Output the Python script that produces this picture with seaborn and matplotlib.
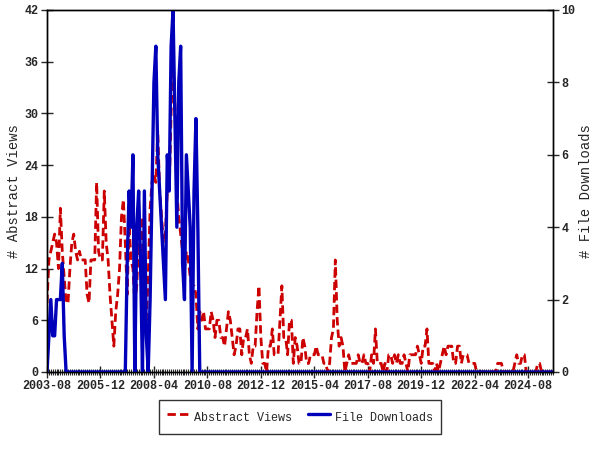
import pandas as pd
import matplotlib
matplotlib.use('Agg')
from matplotlib import pyplot as plt
import seaborn as sns

# monthly values, 2003-08 .. 2025-09
views = [
    8, 13, 14, 15, 16, 15, 12, 19, 14, 11, 8, 8,
    12, 15, 16, 14, 13, 14, 13, 13, 13, 9, 8, 13,
    13, 13, 22, 14, 13, 13, 21, 15, 13, 9, 6, 3,
    7, 9, 12, 18, 20, 15, 9, 17, 13, 12, 8, 10,
    15, 13, 18, 9, 6, 11, 19, 22, 23, 22, 28, 21,
    18, 15, 16, 21, 21, 30, 37, 31, 21, 18, 16, 14,
    12, 14, 13, 11, 10, 10, 9, 5, 7, 6, 7, 5,
    5, 5, 7, 6, 4, 6, 6, 4, 4, 3, 5, 7,
    6, 4, 2, 3, 5, 5, 2, 4, 4, 5, 2, 1,
    3, 3, 7, 10, 4, 1, 1, 0, 3, 3, 5, 2,
    2, 2, 6, 10, 4, 4, 2, 6, 6, 1, 4, 3,
    1, 1, 4, 3, 1, 1, 2, 2, 2, 3, 2, 2,
    2, 1, 1, 0, 1, 4, 5, 13, 6, 3, 4, 3,
    0, 1, 2, 1, 1, 1, 1, 2, 1, 1, 2, 1,
    1, 0, 2, 1, 5, 1, 1, 1, 0, 1, 0, 2,
    2, 1, 2, 1, 2, 1, 1, 2, 1, 0, 2, 2,
    2, 2, 3, 2, 1, 3, 3, 5, 1, 1, 1, 0,
    1, 0, 1, 2, 3, 2, 3, 3, 3, 1, 1, 3,
    3, 1, 2, 2, 2, 1, 1, 1, 1, 0, 0, 0,
    0, 0, 0, 0, 0, 0, 0, 0, 1, 1, 1, 0,
    0, 0, 0, 0, 0, 1, 2, 1, 1, 2, 2, 0,
    0, 0, 0, 0, 0, 1, 1, 0, 0, 0, 0, 0,
    0, 0,
]

downloads = [
    0, 1, 2, 1, 1, 2, 2, 2, 3, 1, 0, 0,
    0, 0, 0, 0, 0, 0, 0, 0, 0, 0, 0, 0,
    0, 0, 0, 0, 0, 0, 0, 0, 0, 0, 0, 0,
    0, 0, 0, 0, 0, 0, 3, 5, 4, 6, 0, 4,
    5, 3, 0, 5, 1, 0, 2, 5, 8, 9, 6, 5,
    4, 3, 2, 6, 5, 9, 10, 7, 4, 8, 9, 3,
    2, 6, 5, 4, 0, 5, 7, 4, 0, 0, 0, 0,
    0, 0, 0, 0, 0, 0, 0, 0, 0, 0, 0, 0,
    0, 0, 0, 0, 0, 0, 0, 0, 0, 0, 0, 0,
    0, 0, 0, 0, 0, 0, 0, 0, 0, 0, 0, 0,
    0, 0, 0, 0, 0, 0, 0, 0, 0, 0, 0, 0,
    0, 0, 0, 0, 0, 0, 0, 0, 0, 0, 0, 0,
    0, 0, 0, 0, 0, 0, 0, 0, 0, 0, 0, 0,
    0, 0, 0, 0, 0, 0, 0, 0, 0, 0, 0, 0,
    0, 0, 0, 0, 0, 0, 0, 0, 0, 0, 0, 0,
    0, 0, 0, 0, 0, 0, 0, 0, 0, 0, 0, 0,
    0, 0, 0, 0, 0, 0, 0, 0, 0, 0, 0, 0,
    0, 0, 0, 0, 0, 0, 0, 0, 0, 0, 0, 0,
    0, 0, 0, 0, 0, 0, 0, 0, 0, 0, 0, 0,
    0, 0, 0, 0, 0, 0, 0, 0, 0, 0, 0, 0,
    0, 0, 0, 0, 0, 0, 0, 0, 0, 0, 0, 0,
    0, 0, 0, 0, 0, 0, 0, 0, 0, 0, 0, 0,
    0, 0,
]

tick_labels = ['2003-08', '2005-12', '2008-04', '2010-08', '2012-12',
               '2015-04', '2017-08', '2019-12', '2022-04', '2024-08']

months = list(pd.period_range('2003-08', '2025-09', freq='M').strftime('%Y-%m'))
df = pd.DataFrame({'idx': range(len(months)), 'month': months,
                   'views': views, 'downloads': downloads})

sns.set_style('ticks')
plt.rcParams['font.family'] = ['Liberation Mono', 'DejaVu Sans Mono']

red = '#cc0000'
blue = '#0000bb'

fig = plt.figure(figsize=(6, 4.5), dpi=100)
ax = fig.add_axes([47 / 600, 1 - 372 / 450, 506 / 600, 362 / 450])
ax2 = ax.twinx()

sns.lineplot(data=df, x='idx', y='views', ax=ax, color=red, lw=2,
             linestyle=(0, (3, 1.5)), label='Abstract Views', legend=False)
sns.lineplot(data=df, x='idx', y='downloads', ax=ax2, color=blue, lw=2.4,
             label='File Downloads', legend=False)

ax.set_xlim(0, len(months) - 1)
ax.set_ylim(0, 42)
ax.set_yticks(range(0, 43, 6))
ax2.set_ylim(0, 10)
ax2.set_yticks(range(0, 11, 2))

ax.set_xticks([months.index(l) for l in tick_labels])
ax.set_xticklabels(tick_labels)
ax.set_xticks(range(len(months)), minor=True)

for a in (ax, ax2):
    for s in a.spines.values():
        s.set_color('black')
        s.set_linewidth(1)
    a.tick_params(axis='both', which='major', direction='inout', length=8,
                  width=1, labelsize=8.5, pad=2)
    for t in a.get_xticklabels() + a.get_yticklabels():
        t.set_fontweight('bold')
ax.tick_params(axis='x', which='minor', direction='inout', length=4, width=0.8)

ax.set_xlabel('')
ax.set_ylabel('# Abstract Views', fontsize=10)
ax2.set_ylabel('# File Downloads', fontsize=10)
ax.yaxis.set_label_coords(-0.051, 0.5)
ax2.yaxis.set_label_coords(1.051, 0.5)

h1, l1 = ax.get_legend_handles_labels()
h2, l2 = ax2.get_legend_handles_labels()
leg = fig.legend(h1 + h2, l1 + l2, loc='center', bbox_to_anchor=(0.5, 1 - 417 / 450),
                 ncol=2, frameon=True, fancybox=False, edgecolor='black',
                 fontsize=8.5, handlelength=1.9, handletextpad=0.4,
                 columnspacing=1.3, borderpad=0.7, handleheight=2.0)
leg.get_frame().set_linewidth(1)

fig.savefig('out.png', dpi=100)
